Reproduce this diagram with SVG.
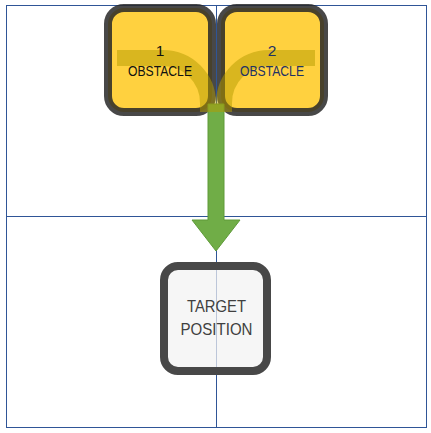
<svg xmlns="http://www.w3.org/2000/svg" width="431" height="433" viewBox="0 0 431 433">
<style>
.grid{fill:none;stroke:#2F5597;stroke-width:1}
.obs{fill:#FFD13F;stroke:#282828;stroke-opacity:0.85;stroke-width:8}
.tgt{fill:#F2F2F2;fill-opacity:0.72;stroke:#484848;stroke-width:8}
.band{fill:none;stroke:#B39B00;stroke-opacity:0.5;stroke-width:16}
.arrow{fill:#70AD47;stroke:#5E9A38;stroke-width:1}
.num{font-family:"Liberation Sans",Arial,sans-serif;font-size:15.5px;text-anchor:middle}
.lbl{font-family:"Liberation Sans",Arial,sans-serif;font-size:14px;text-anchor:middle}
.tl{font-family:"Liberation Sans",Arial,sans-serif;font-size:16.5px;text-anchor:middle;fill:#404040}
</style>
<g id="grid">
<rect class="grid" x="6.5" y="5.5" width="420" height="422"/>
<line class="grid" x1="216.5" y1="5.5" x2="216.5" y2="427.5"/>
<line class="grid" x1="6.5" y1="216.5" x2="426.5" y2="216.5"/>
</g>
<g id="obstacle1">
<rect class="obs" x="108" y="8" width="104" height="104" rx="16"/>
</g>
<g id="obstacle2">
<rect class="obs" x="221" y="8" width="103" height="104" rx="16"/>
</g>
<g id="connectors">
<path class="arrow" d="M208,104 V220 H192 L216,251 L240,220 H224 V104 Z"/>
<path class="band" d="M117,58 H163 A45 45 0 0 1 208,103 V112"/>
<path class="band" d="M315,58 H269 A45 45 0 0 0 224,103 V112"/>
</g>
<g id="obstacle1-label">
<text class="num" x="160" y="56" fill="#111">1</text>
<text class="lbl" x="160" y="76" fill="#111" textLength="64" lengthAdjust="spacingAndGlyphs">OBSTACLE</text>
</g>
<g id="obstacle2-label">
<text class="num" x="272" y="56" fill="#1F3264">2</text>
<text class="lbl" x="272" y="76" fill="#1F3264" textLength="64" lengthAdjust="spacingAndGlyphs">OBSTACLE</text>
</g>
<g id="target">
<rect class="tgt" x="164" y="266" width="103" height="105" rx="14"/>
<text class="tl" x="216.5" y="312" textLength="59" lengthAdjust="spacingAndGlyphs">TARGET</text>
<text class="tl" x="216.5" y="335" textLength="72" lengthAdjust="spacingAndGlyphs">POSITION</text>
</g>
</svg>
